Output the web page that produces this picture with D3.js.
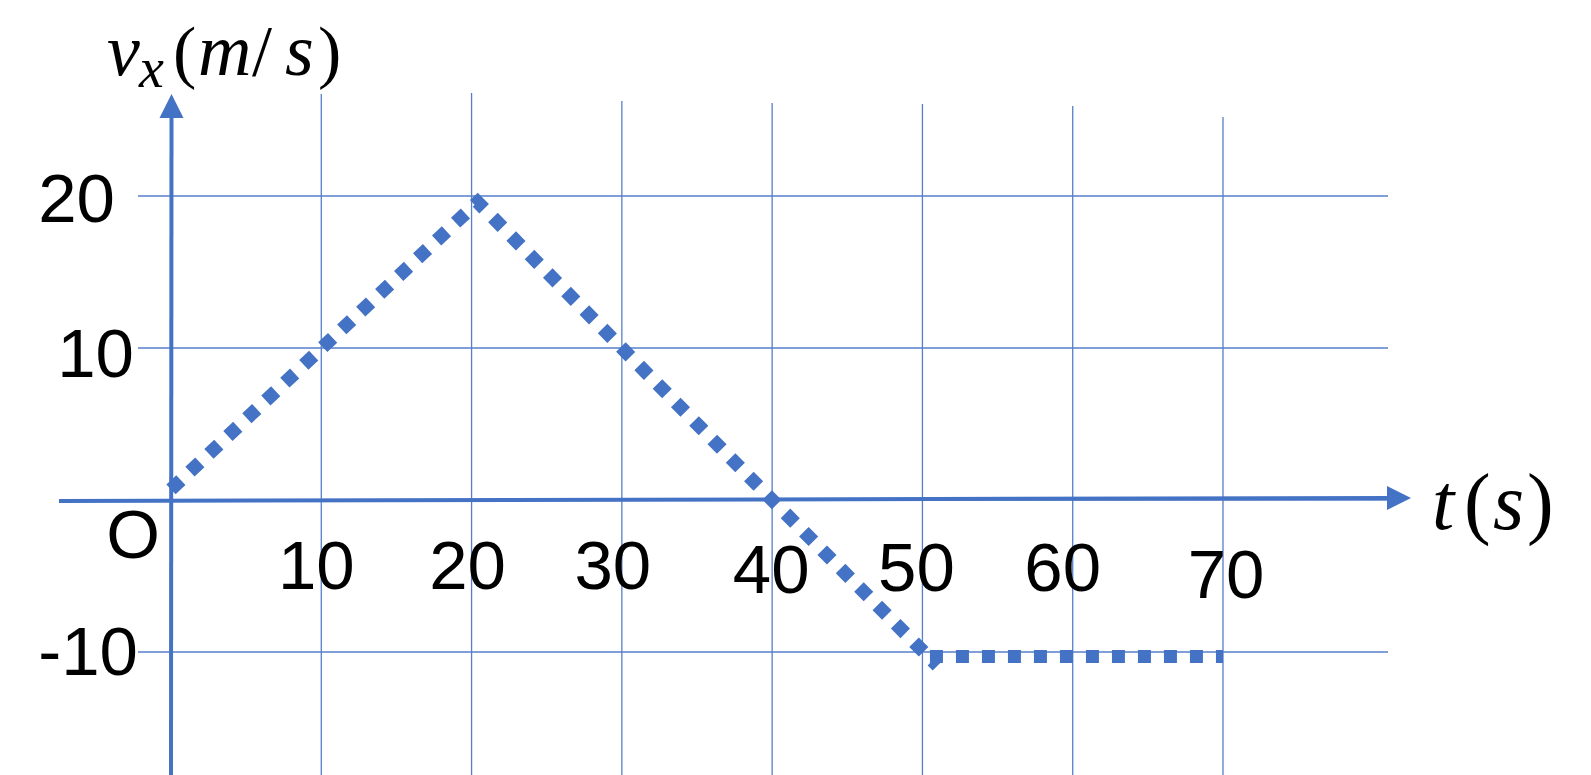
<!DOCTYPE html>
<html>
<head>
<meta charset="utf-8">
<script src="https://cdn.jsdelivr.net/npm/d3@7/dist/d3.min.js"></script>
<style>
  html, body { margin: 0; padding: 0; background: #fff; }
  svg { display: block; }
</style>
</head>
<body>
<svg id="chart" width="1591" height="775"></svg>
<script>
// ---------- data ----------
const tTicks = [10, 20, 30, 40, 50, 60, 70];
const tTickLabels = ["10", "20", "30", "40", "50", "60", "70"];
const vTicks = [20, 10, -10];
const vTickLabels = ["20", "10", "-10"];
const gridV = [20, 10, 0, -10];

// series 1: rise, fall through zero, down to -10
const seg1T = [0, 20.4, 40, 51];
const seg1V = [0.7, 19.6, 0, -10.9];
// series 2: constant velocity
const seg2T = [50.5, 70];
const seg2V = [-10.3, -10.3];

// ---------- layout (not data) ----------
const W = 1591, H = 775;
const BLUE = "#4472C4";
const xLabelNudge = {10: [-5, 0], 20: [-4, 0], 30: [-9, 0], 40: [-1, 4], 50: [-6, 2], 60: [-10, 2], 70: [3, 9]};
const yLabelRight = {20: 115, 10: 134, "-10": 138};
const yLabelNudge = {20: 1, 10: 4, "-10": -2};
const gridTop = {10: 94, 20: 93, 30: 101, 40: 103, 50: 104, 60: 106, 70: 117};

const x = d3.scaleLinear().domain([0, 70]).range([171, 1223]);
const y = d3.scaleLinear().domain([-10, 20]).range([652, 196]);

const svg = d3.select("#chart");

// ---------- grid ----------
const grid = svg.append("g").attr("stroke", BLUE).attr("stroke-width", 1.3).attr("opacity", 0.9);
grid.selectAll("line.h").data(gridV).join("line")
  .attr("class", "h")
  .attr("x1", 138).attr("x2", 1388)
  .attr("y1", d => y(d)).attr("y2", d => y(d));
grid.selectAll("line.v").data(tTicks).join("line")
  .attr("class", "v")
  .attr("x1", d => x(d)).attr("x2", d => x(d))
  .attr("y1", d => gridTop[d]).attr("y2", H);

// ---------- axes with arrows ----------
const axes = svg.append("g").attr("fill", BLUE).attr("stroke", BLUE);
axes.append("line")
  .attr("x1", x(0)).attr("x2", x(0) + 0.5)
  .attr("y1", H).attr("y2", 116)
  .attr("stroke-width", 4);
axes.append("path")
  .attr("stroke", "none")
  .attr("d", `M${x(0) + 0.5},94 L${x(0) + 12.5},118 L${x(0) - 11.5},118 Z`);
axes.append("line")
  .attr("x1", 59).attr("x2", 1390)
  .attr("y1", y(0) + 1).attr("y2", y(0) - 2)
  .attr("stroke-width", 4);
axes.append("path")
  .attr("stroke", "none")
  .attr("d", `M1411,${y(0) - 2} L1387,${y(0) - 14} L1387,${y(0) + 10} Z`);

// ---------- series ----------
const line = d3.line().x(d => x(d[0])).y(d => y(d[1]));
const seg1 = seg1T.map((t, i) => [t, seg1V[i]]);
const seg2 = seg2T.map((t, i) => [t, seg2V[i]]);
svg.append("path")
  .datum(seg1)
  .attr("d", line)
  .attr("fill", "none")
  .attr("stroke", BLUE)
  .attr("stroke-width", 13.5)
  .attr("stroke-dasharray", "13.5 12.5")
  .attr("stroke-linejoin", "miter");
svg.append("path")
  .datum(seg2)
  .attr("d", line)
  .attr("fill", "none")
  .attr("stroke", BLUE)
  .attr("stroke-width", 13)
  .attr("stroke-dasharray", "13 13");

// ---------- tick labels ----------
const labelFont = "'Liberation Sans', Arial, sans-serif";
svg.append("g").selectAll("text").data(tTicks).join("text")
  .attr("x", d => x(d) + xLabelNudge[d][0])
  .attr("y", d => 589 + xLabelNudge[d][1])
  .attr("text-anchor", "middle")
  .attr("font-family", labelFont)
  .attr("font-size", 69)
  .attr("fill", "#000")
  .text((d, i) => tTickLabels[i]);

svg.append("g").selectAll("text").data(vTicks).join("text")
  .attr("x", d => yLabelRight[d])
  .attr("y", d => y(d) + 24.5 + yLabelNudge[d])
  .attr("text-anchor", "end")
  .attr("font-family", labelFont)
  .attr("font-size", 69)
  .attr("fill", "#000")
  .text((d, i) => vTickLabels[i]);

svg.append("text")
  .attr("x", 133).attr("y", 558)
  .attr("text-anchor", "middle")
  .attr("font-family", labelFont)
  .attr("font-size", 69)
  .attr("fill", "#000")
  .text("O");

// ---------- axis titles ----------
const serif = "'Liberation Serif', 'Times New Roman', serif";
const yTitle = svg.append("text")
  .attr("font-family", serif)
  .attr("fill", "#000");
const yParts = [
  {s: "v", x: 107, y: 75, size: 74, it: true},
  {s: "x", x: 139, y: 87, size: 56, it: true},
  {s: "(", x: 173, y: 75, size: 70, it: false},
  {s: "m", x: 198, y: 75, size: 74, it: true},
  {s: "/", x: 252, y: 75, size: 72, it: false},
  {s: "s", x: 285, y: 75, size: 74, it: true},
  {s: ")", x: 318, y: 75, size: 70, it: false}
];
yTitle.selectAll("tspan").data(yParts).join("tspan")
  .attr("x", d => d.x).attr("y", d => d.y)
  .attr("font-size", d => d.size)
  .attr("font-style", d => d.it ? "italic" : "normal")
  .text(d => d.s);

const xTitle = svg.append("text")
  .attr("font-family", serif)
  .attr("fill", "#000");
const xParts = [
  {s: "t", x: 1432, y: 529, size: 80, it: true},
  {s: "(", x: 1464, y: 529, size: 80, it: false},
  {s: "s", x: 1493, y: 529, size: 80, it: true},
  {s: ")", x: 1527, y: 529, size: 80, it: false}
];
xTitle.selectAll("tspan").data(xParts).join("tspan")
  .attr("x", d => d.x).attr("y", d => d.y)
  .attr("font-size", d => d.size)
  .attr("font-style", d => d.it ? "italic" : "normal")
  .text(d => d.s);
</script>
</body>
</html>
